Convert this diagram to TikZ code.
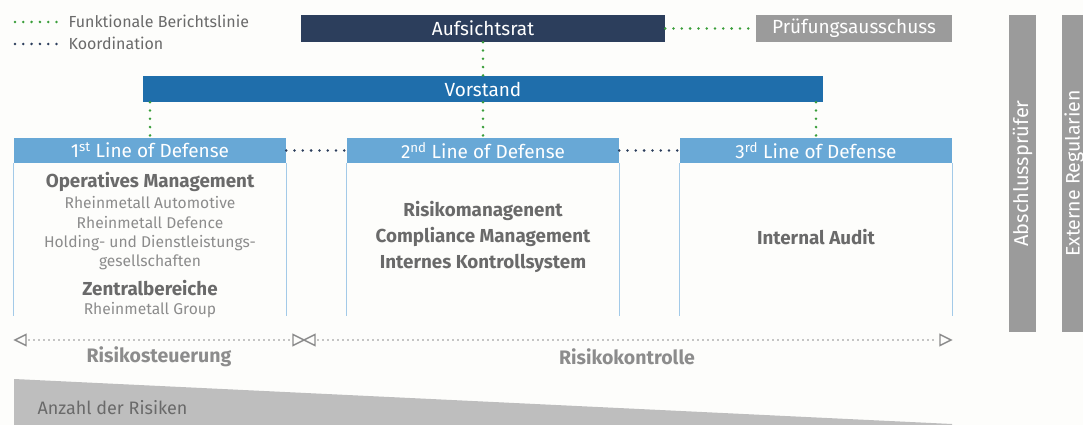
\documentclass[tikz,border=0pt]{standalone}
\usepackage{fontspec}
\setmainfont{Fira Sans}
\usetikzlibrary{arrows.meta,calc}
\definecolor{bgc}{HTML}{FDFDFB}
\definecolor{navy}{HTML}{2C3E5C}
\definecolor{vblue}{HTML}{1F6EAB}
\definecolor{hblue}{HTML}{68A8D6}
\definecolor{lblue}{HTML}{A3CAE8}
\definecolor{gbox}{HTML}{9B9B9B}
\definecolor{wedge}{HTML}{BEBEBE}
\definecolor{tdark}{HTML}{6A6A6A}
\definecolor{tlight}{HTML}{8C8C8C}
\definecolor{gdotc}{HTML}{3A9E3A}
\definecolor{bdotc}{HTML}{2C3E5C}
\begin{document}
\begin{tikzpicture}[x=1pt,y=-1pt,
  box/.style={inner sep=0pt, text=white, font=\fontsize{19}{22}\selectfont},
  gdot/.style={gdotc, line width=2.8pt, line cap=round, dash pattern=on 0pt off 8.3pt},
  bdot/.style={bdotc, line width=2.8pt, line cap=round, dash pattern=on 0pt off 8.3pt},
  adot/.style={tlight, line width=1.8pt, line cap=round, dash pattern=on 0pt off 5pt},
  sidel/.style={lblue, line width=1pt},
  big/.style={text=tdark, font=\fontsize{18.8}{22}\selectfont\bfseries},
  small/.style={text=tlight, font=\fontsize{15.6}{18}\selectfont},
  leg/.style={text=tdark, font=\fontsize{16}{18}\selectfont, anchor=west},
  lab/.style={text=tlight, font=\fontsize{19.5}{22}\selectfont\bfseries},
  trio/.style={draw=tlight, line width=1.4pt, line join=miter}
]
\useasboundingbox (0,0) rectangle (1083,425);
\fill[bgc] (0,0) rectangle (1083,425);

% wedge
\fill[wedge] (14,379) -- (952,424) -- (952,425) -- (14,425) -- cycle;
\node[text=tdark, font=\fontsize{18}{20}\selectfont, anchor=west] (anz) at (34,408) {Anzahl der Risiken};

% legend
\coordinate (lg1a) at (15,22); \coordinate (lg1b) at (59,22);
\coordinate (lg2a) at (15,44); \coordinate (lg2b) at (59,44);
\draw[gdot] (lg1a) -- (lg1b);
\draw[bdot] (lg2a) -- (lg2b);
\node[leg] (legf) at (65,21) {Funktionale Berichtslinie};
\node[leg] (legk) at (65,43) {Koordination};

% top boxes
\node[box, fill=navy, minimum width=364pt, minimum height=27pt] (auf) at (483,28.5) {Aufsichtsrat};
\node[box, fill=gbox, minimum width=196pt, minimum height=27pt] (pa) at (854,28.5) {Prüfungsausschuss};
\node[box, fill=vblue, minimum width=680pt, minimum height=26pt] (vor) at (483,89) {Vorstand};

% vertical bars
\node[box, fill=gbox, minimum width=27pt, minimum height=317pt] (ap) at (1022.5,173.5) {};
\node[box, rotate=90, font=\fontsize{20}{22}\selectfont] (apt) at (ap.center) {Abschlussprüfer};
\node[box, fill=gbox, minimum width=27pt, minimum height=317pt] (er) at (1075.5,173.5) {};
\node[box, rotate=90, font=\fontsize{19.5}{22}\selectfont] (ert) at (1074,173.5) {Externe Regularien};

% line of defense headers
\node[box, fill=hblue, minimum width=272pt, minimum height=25pt] (h1) at (150,150.5) {1\textsuperscript{st} Line of Defense};
\node[box, fill=hblue, minimum width=272pt, minimum height=25pt] (h2) at (483,150.5) {2\textsuperscript{nd} Line of Defense};
\node[box, fill=hblue, minimum width=272pt, minimum height=25pt] (h3) at (816,150.5) {3\textsuperscript{rd} Line of Defense};

% side lines
\foreach \h in {h1,h2,h3}{
  \draw[sidel] (\h.south west) -- ++(0,153);
  \draw[sidel] (\h.south east) -- ++(0,153);
}

% connectors
\draw[gdot] (auf.east) -- (pa.west);
\draw[gdot] (auf.south) -- (vor.north);
\draw[gdot] (vor.south -| h1.north) -- (h1.north);
\draw[gdot] (vor.south -| h2.north) -- (h2.north);
\draw[gdot] (vor.south -| h3.north) -- (h3.north);
\draw[bdot] (h1.east) -- (h2.west);
\draw[bdot] (h2.east) -- (h3.west);

% content 1st
\node[big] (om) at (150,182) {Operatives Management};
\node[small] (ra) at (150,203) {Rheinmetall Automotive};
\node[small] (rd) at (150,223) {Rheinmetall Defence};
\node[small] (hd) at (150,243) {Holding- und Dienstleistungs-};
\node[small] (gs) at (150,262) {gesellschaften};
\node[big] (zb) at (150,288) {Zentralbereiche};
\node[small] (rg) at (150,310) {Rheinmetall Group};

% content 2nd
\node[big] (rm) at (483,211) {Risikomanagenent};
\node[big] (cm) at (483,237) {Compliance Management};
\node[big] (ik) at (483,263) {Internes Kontrollsystem};

% content 3rd
\node[big] (ia) at (816,237) {Internal Audit};

% range arrows
\coordinate (al) at (15,340);
\coordinate (am) at (304,340);
\coordinate (ar) at (951,340);
\draw[adot] ($(al)+(14,0)$) -- ($(am)+(-14,0)$);
\draw[adot] ($(am)+(14,0)$) -- ($(ar)+(-14,0)$);
\draw[trio] (al) -- ++(11,-5.5) -- ++(0,11) -- cycle;
\draw[trio] (am) -- ++(-11,-5.5) -- ++(0,11) -- cycle;
\draw[trio] (am) -- ++(11,-5.5) -- ++(0,11) -- cycle;
\draw[trio] (ar) -- ++(-11,-5.5) -- ++(0,11) -- cycle;
\node[lab] (rs) at (159,357) {Risikosteuerung};
\node[lab] (rk) at (627,357) {Risikokontrolle};
\end{tikzpicture}
\end{document}
